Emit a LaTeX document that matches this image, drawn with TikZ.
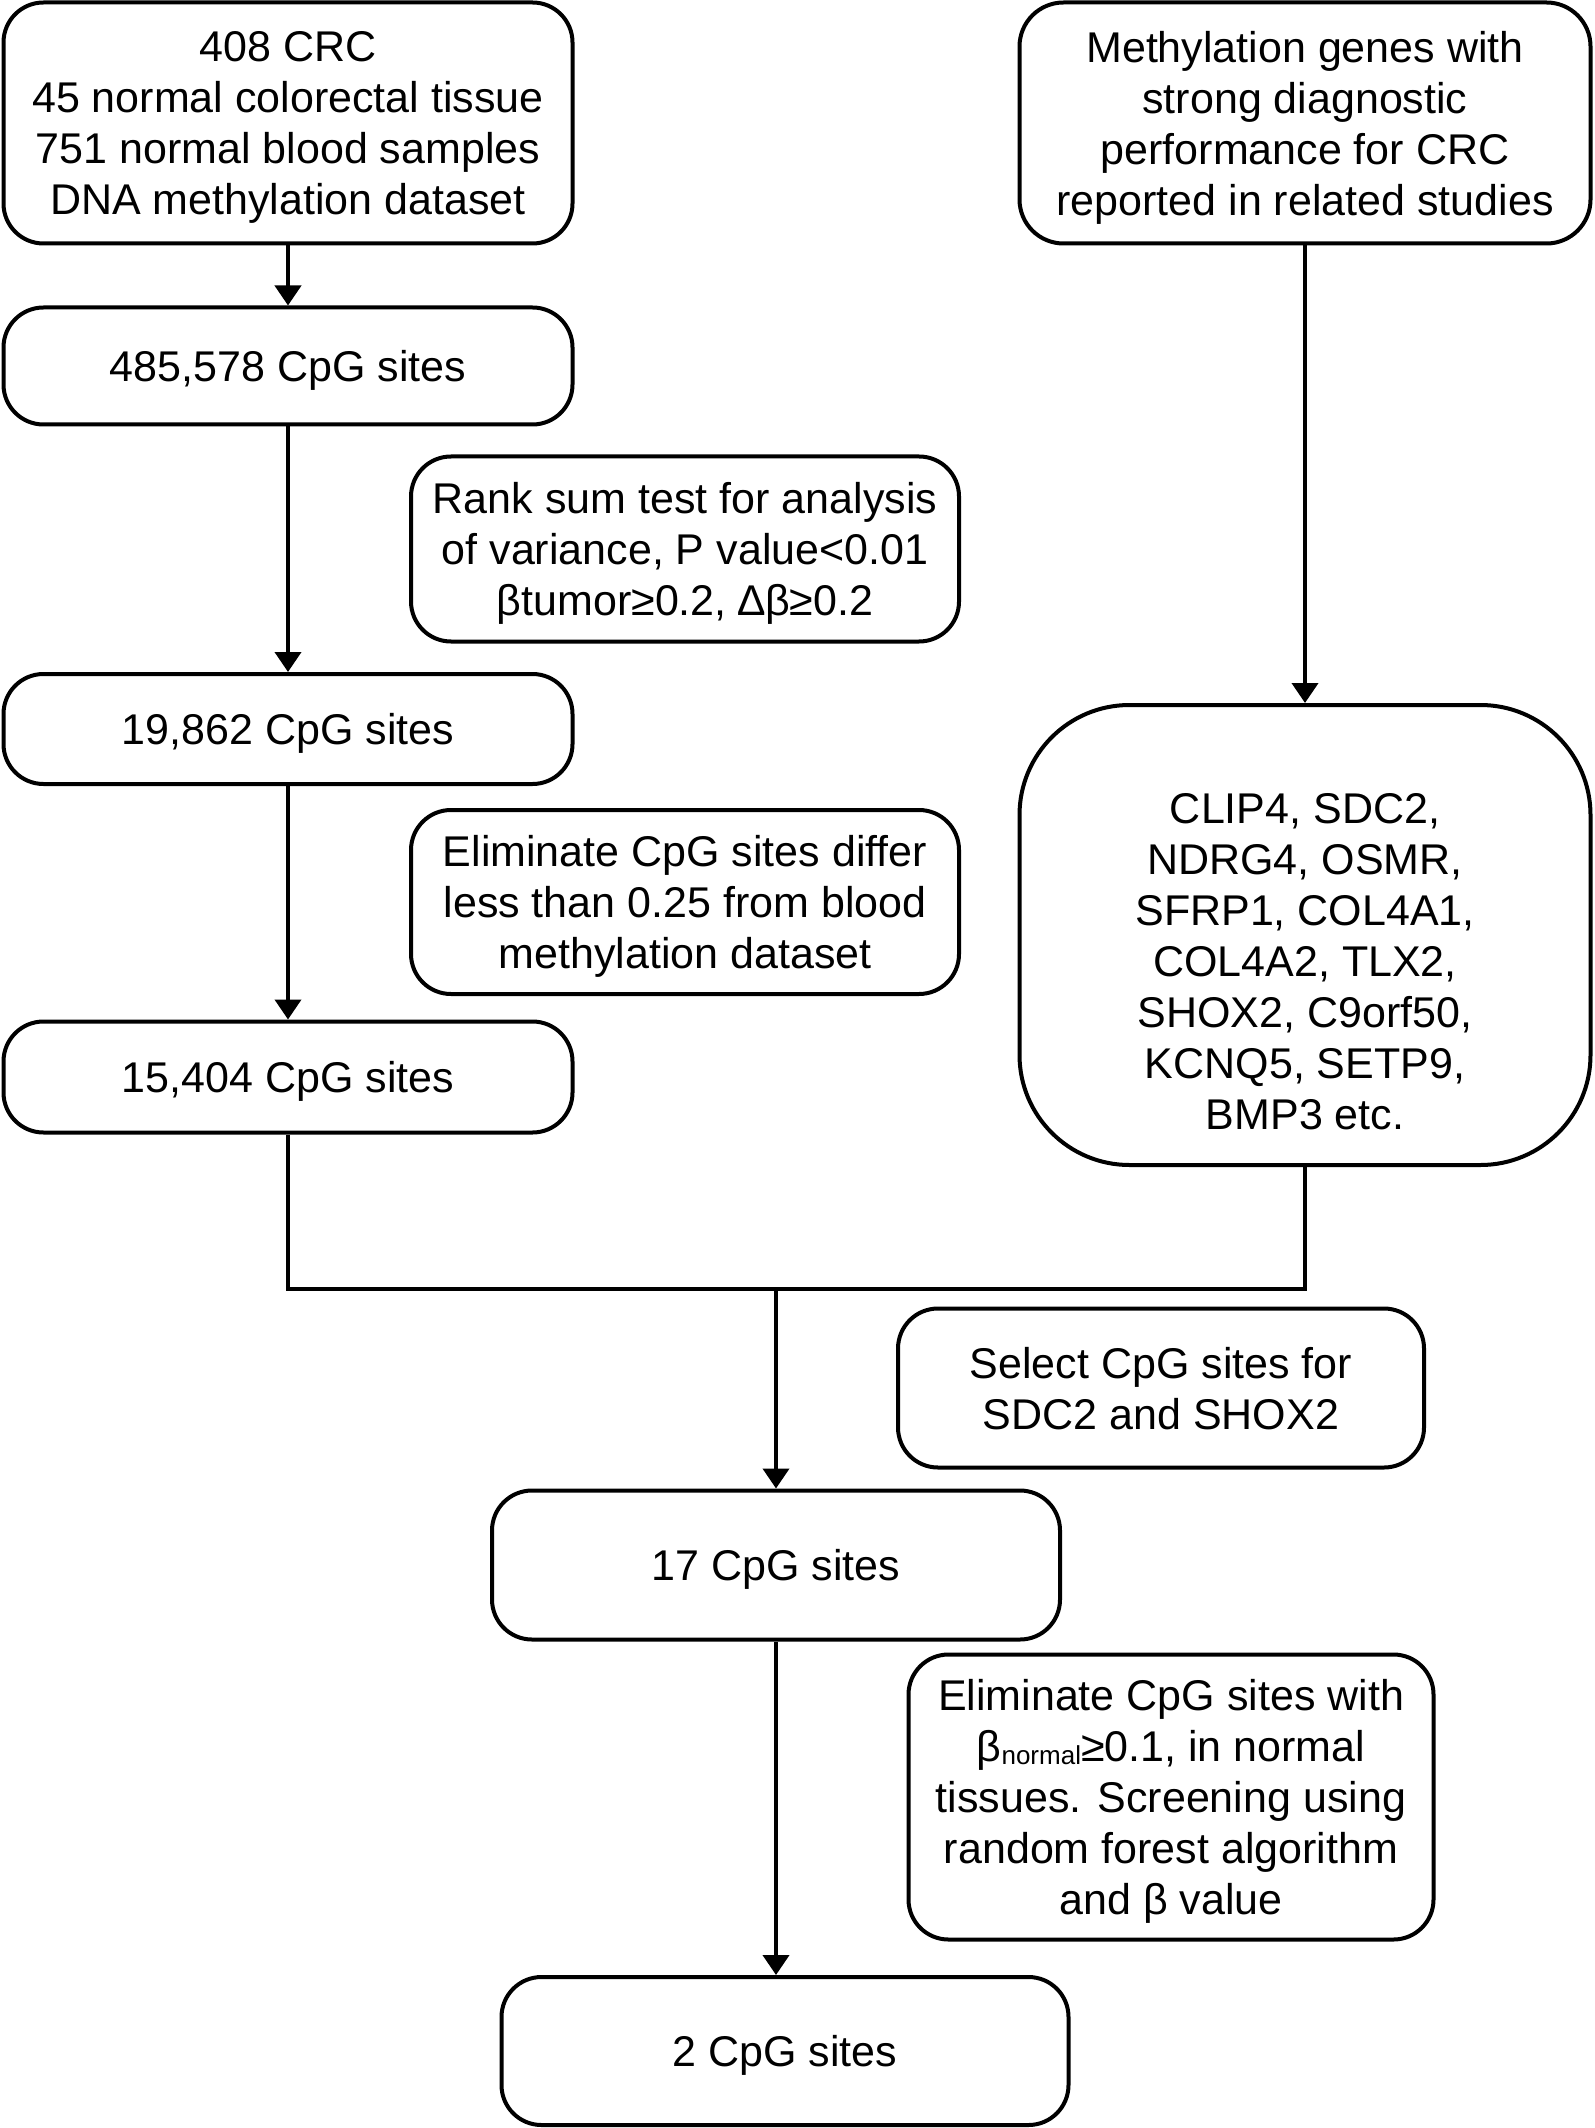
\documentclass[tikz,border=0pt]{standalone}
\usepackage{fontspec}
\setmainfont{Liberation Sans}
\usetikzlibrary{arrows.meta}
\begin{document}
\begin{tikzpicture}[x=0.5pt,y=-0.5pt,
  box/.style={draw, line width=2pt, rounded corners=20pt, align=center, inner sep=0pt,
    text depth=-1pt, font=\fontsize{21.5}{25.5}\selectfont},
  txt/.style={align=center, inner sep=0pt, font=\fontsize{21.5}{25.5}\selectfont},
  arr/.style={line width=2pt, -{Triangle[width=13pt,length=10pt]}},
  ln/.style={line width=2pt}]
\useasboundingbox (0,0) rectangle (1594,2128);
\newcommand{\smallnormal}{{\fontsize{13}{13}\selectfont normal}}

\node[box, minimum width=284.5pt, minimum height=120.5pt] (b1) at (288,123)
  {408 CRC\\45 normal colorectal tissue\\751 normal blood samples\\DNA methylation dataset};
\node[box, minimum width=284.5pt, minimum height=58.5pt] (b2) at (288,366) {485,578 CpG sites};
\node[box, minimum width=274pt, minimum height=92.5pt] (rank) at (685,549)
  {Rank sum test for analysis\\of variance, P value<0.01\\βtumor≥0.2, ∆β≥0.2};
\node[box, minimum width=284.5pt, minimum height=55pt] (b3) at (288,729) {19,862 CpG sites};
\node[box, minimum width=274pt, minimum height=92pt] (elim) at (685,902)
  {Eliminate CpG sites differ\\less than 0.25 from blood\\methylation dataset};
\node[box, minimum width=284.5pt, minimum height=55.5pt] (b4) at (288,1077) {15,404 CpG sites};

\node[box, rounded corners=22pt, minimum width=285.5pt, minimum height=120.5pt] (meth) at (1305,123)
  {Methylation genes with\\strong diagnostic\\performance for CRC\\reported in related studies};
\node[box, rounded corners=55pt, minimum width=285.5pt, minimum height=230pt] (clip) at (1305,935) {};
\node[txt] (cliptext) at (1305,962)
  {CLIP4, SDC2,\\NDRG4, OSMR,\\SFRP1, COL4A1,\\COL4A2, TLX2,\\SHOX2, C9orf50,\\KCNQ5, SETP9,\\BMP3 etc.};

\node[box, minimum width=263pt, minimum height=79.5pt] (sel) at (1161,1388)
  {Select CpG sites for\\SDC2 and SHOX2};
\node[box, minimum width=284pt, minimum height=74.5pt] (b17) at (776,1565) {17 CpG sites};
\node[box, minimum width=262.5pt, minimum height=142.5pt] (elim2) at (1171,1797)
  {Eliminate CpG sites with\\β\raisebox{-1.5pt}{\smallnormal}≥0.1, in normal\\tissues. Screening using\\random forest algorithm\\and β value};
\node[box, minimum width=283.5pt, minimum height=74pt] (b2s) at (785,2051) {2 CpG sites};

\draw[arr] (b1) -- (b2);
\draw[arr] (b2) -- (b3);
\draw[arr] (b3) -- (b4);
\draw[arr] (meth) -- (clip);
\coordinate (jl) at (288,1289);
\coordinate (jr) at (1305,1289);
\coordinate (jc) at (776,1289);
\draw[ln] (b4.south) -- (jl) -- (jr) -- (clip.south);
\draw[arr] (jc) -- (b17);
\draw[arr] (b17.south) -- (b17.south |- b2s.north);
\end{tikzpicture}
\end{document}
